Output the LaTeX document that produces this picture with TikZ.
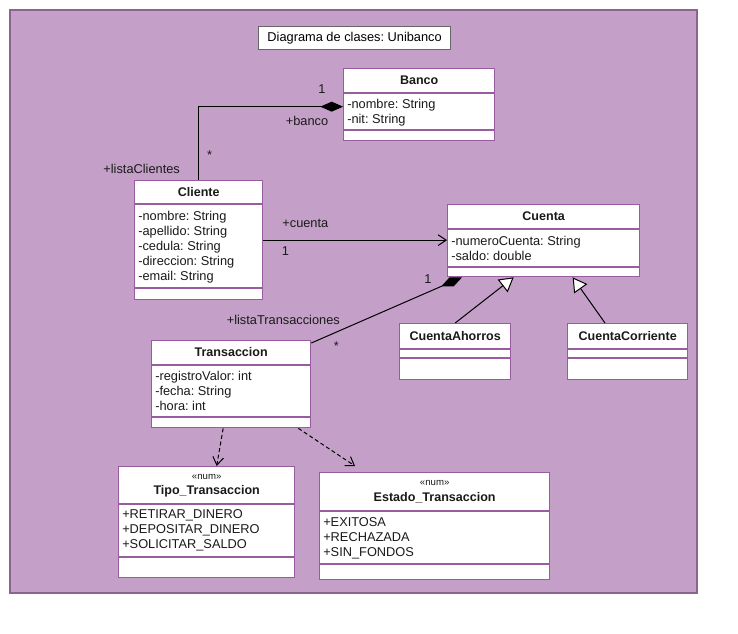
\documentclass[tikz,border=0pt]{standalone}
\usepackage{fontspec}
\setmainfont{Liberation Sans}
\frenchspacing
\usetikzlibrary{positioning,calc,arrows.meta}
\definecolor{lilac}{HTML}{C4A0C9}
\definecolor{framecol}{HTML}{8B6590}
\definecolor{boxcol}{HTML}{9A5CA0}
\definecolor{txtcol}{HTML}{1A1A1A}
\tikzset{
  classbox/.style={draw=boxcol,fill=white,line width=1pt,anchor=north west,inner sep=0pt},
  sepline/.style={draw=boxcol,line width=1pt},
  cname/.style={font=\bfseries\fontsize{9.4}{11}\selectfont,text=txtcol,inner sep=0pt},
  attrs/.style={font=\fontsize{9.6}{11.25}\selectfont,text=txtcol,align=left,anchor=north west,inner sep=0pt},
  ster/.style={font=\fontsize{7.2}{9}\selectfont,text=txtcol,inner sep=0pt},
  lbl/.style={font=\fontsize{9.6}{11}\selectfont,text=txtcol,inner sep=0pt},
  rel/.style={line width=0.75pt,draw=black},
  dep/.style={line width=0.75pt,dash pattern=on 3pt off 2pt,-{Straight Barb[length=6pt,width=8pt]}},
}

\begin{document}
\begin{tikzpicture}[x=0.75pt,y=-0.75pt]
  \useasboundingbox (0,0) rectangle (738,634);
  \fill[lilac,draw=framecol,line width=1.2pt] (10,10) rectangle (697,593);

  \node[draw=gray!80!black,fill=white,line width=0.9pt,minimum width=192*0.75pt,minimum height=23*0.75pt,
    anchor=north west,inner sep=0pt,font=\fontsize{9.6}{11}\selectfont] (titulo) at (258,26) {Diagrama de clases: Unibanco};

  % Banco
  \node[classbox,minimum width=151*0.75pt,minimum height=72*0.75pt] (banco) at (343,68) {};
  \draw[sepline] ($(banco.north west)+(0,25)$) -- ($(banco.north east)+(0,25)$);
  \draw[sepline] ($(banco.north west)+(0,62)$) -- ($(banco.north east)+(0,62)$);
  \node[cname] at ($(banco.north)+(0,12)$) {Banco};
  \node[attrs] at ($(banco.north west)+(4,31)$) {-nombre: String\\-nit: String};

  % Cliente
  \node[classbox,minimum width=128*0.75pt,minimum height=119*0.75pt] (cliente) at (134,180) {};
  \draw[sepline] ($(cliente.north west)+(0,24)$) -- ($(cliente.north east)+(0,24)$);
  \draw[sepline] ($(cliente.north west)+(0,108)$) -- ($(cliente.north east)+(0,108)$);
  \node[cname] at ($(cliente.north)+(0,12)$) {Cliente};
  \node[attrs] at ($(cliente.north west)+(4,31)$)
    {-nombre: String\\-apellido: String\\-cedula: String\\-direccion: String\\-email: String};

  % Cuenta
  \node[classbox,minimum width=192*0.75pt,minimum height=72*0.75pt] (cuenta) at (447,204) {};
  \draw[sepline] ($(cuenta.north west)+(0,25)$) -- ($(cuenta.north east)+(0,25)$);
  \draw[sepline] ($(cuenta.north west)+(0,63)$) -- ($(cuenta.north east)+(0,63)$);
  \node[cname] at ($(cuenta.north)+(0,12)$) {Cuenta};
  \node[attrs] at ($(cuenta.north west)+(4,32)$) {-numeroCuenta: String\\-saldo: double};

  % Transaccion
  \node[classbox,minimum width=159*0.75pt,minimum height=87*0.75pt] (transaccion) at (151,340) {};
  \draw[sepline] ($(transaccion.north west)+(0,25)$) -- ($(transaccion.north east)+(0,25)$);
  \draw[sepline] ($(transaccion.north west)+(0,77)$) -- ($(transaccion.north east)+(0,77)$);
  \node[cname] at ($(transaccion.north)+(0,12)$) {Transaccion};
  \node[attrs] at ($(transaccion.north west)+(4,31)$) {-registroValor: int\\-fecha: String\\-hora: int};

  % subclases de Cuenta
  \node[classbox,minimum width=111*0.75pt,minimum height=56*0.75pt] (ahorros) at (399,323) {};
  \draw[sepline] ($(ahorros.north west)+(0,26)$) -- ($(ahorros.north east)+(0,26)$);
  \draw[sepline] ($(ahorros.north west)+(0,35)$) -- ($(ahorros.north east)+(0,35)$);
  \node[cname] at ($(ahorros.north)+(0,13)$) {CuentaAhorros};

  \node[classbox,minimum width=120*0.75pt,minimum height=56*0.75pt] (corriente) at (567,323) {};
  \draw[sepline] ($(corriente.north west)+(0,26)$) -- ($(corriente.north east)+(0,26)$);
  \draw[sepline] ($(corriente.north west)+(0,35)$) -- ($(corriente.north east)+(0,35)$);
  \node[cname] at ($(corriente.north)+(0,13)$) {CuentaCorriente};

  % enumeraciones
  \node[classbox,minimum width=176*0.75pt,minimum height=111*0.75pt] (tipo) at (118,466) {};
  \draw[sepline] ($(tipo.north west)+(0,38)$) -- ($(tipo.north east)+(0,38)$);
  \draw[sepline] ($(tipo.north west)+(0,91)$) -- ($(tipo.north east)+(0,91)$);
  \node[ster] at ($(tipo.north)+(0,11)$) {«num»};
  \node[cname] at ($(tipo.north)+(0,25)$) {Tipo\_Transaccion};
  \node[attrs] at ($(tipo.north west)+(4,43)$) {+RETIRAR\_DINERO\\+DEPOSITAR\_DINERO\\+SOLICITAR\_SALDO};

  \node[classbox,minimum width=230*0.75pt,minimum height=107*0.75pt] (estado) at (319,472) {};
  \draw[sepline] ($(estado.north west)+(0,39)$) -- ($(estado.north east)+(0,39)$);
  \draw[sepline] ($(estado.north west)+(0,92)$) -- ($(estado.north east)+(0,92)$);
  \node[ster] at ($(estado.north)+(0,11)$) {«num»};
  \node[cname] at ($(estado.north)+(0,26)$) {Estado\_Transaccion};
  \node[attrs] at ($(estado.north west)+(4,45)$) {+EXITOSA\\+RECHAZADA\\+SIN\_FONDOS};

  % relaciones
  \draw[rel,-{Diamond[length=17pt,width=7.5pt]}] (cliente.north) |- ($(banco.west)+(0,2)$);
  \node[lbl] at ($(banco.west)+(-21,-16)$) {1};
  \node[lbl] at ($(banco.west)+(-36,16)$) {+banco};
  \node[lbl] at ($(cliente.north)+(11,-25)$) {*};
  \node[lbl] at ($(cliente.north)+(-57,-11)$) {+listaClientes};

  \draw[rel,-{Straight Barb[length=6pt,width=8pt]}] (cliente.east) -- (cliente.east -| cuenta.west);
  \node[lbl] at ($(cliente.east)+(42,-17)$) {+cuenta};
  \node[lbl] at ($(cliente.east)+(22,11)$) {1};

  \coordinate (cmpend) at ($(cuenta.south west)+(15,0)$);
  \draw[rel,-{Diamond[length=17pt,width=7.5pt]}] ($(transaccion.north east)+(0,3)$) -- (cmpend);
  \node[lbl] at ($(cmpend)+(-34,2)$) {1};
  \node[lbl] at ($(transaccion.north east)+(-28,-20)$) {+listaTransacciones};
  \node[lbl] at ($(transaccion.north east)+(25,6)$) {*};

  \draw[rel,-{Triangle[fill=white,length=10.5pt,width=12pt]}] (ahorros.north) -- ($(cuenta.south)+(-30,0)$);
  \draw[rel,-{Triangle[fill=white,length=10.5pt,width=12pt]}] ($(corriente.north west)+(38,0)$) -- ($(cuenta.south)+(29,0)$);

  \draw[dep] ($(transaccion.south)+(-8,0)$) -- ($(tipo.north)+(10,0)$);
  \draw[dep] ($(transaccion.south east)+(-13,0)$) -- ($(estado.north west)+(36,-6)$);
\end{tikzpicture}
\end{document}
